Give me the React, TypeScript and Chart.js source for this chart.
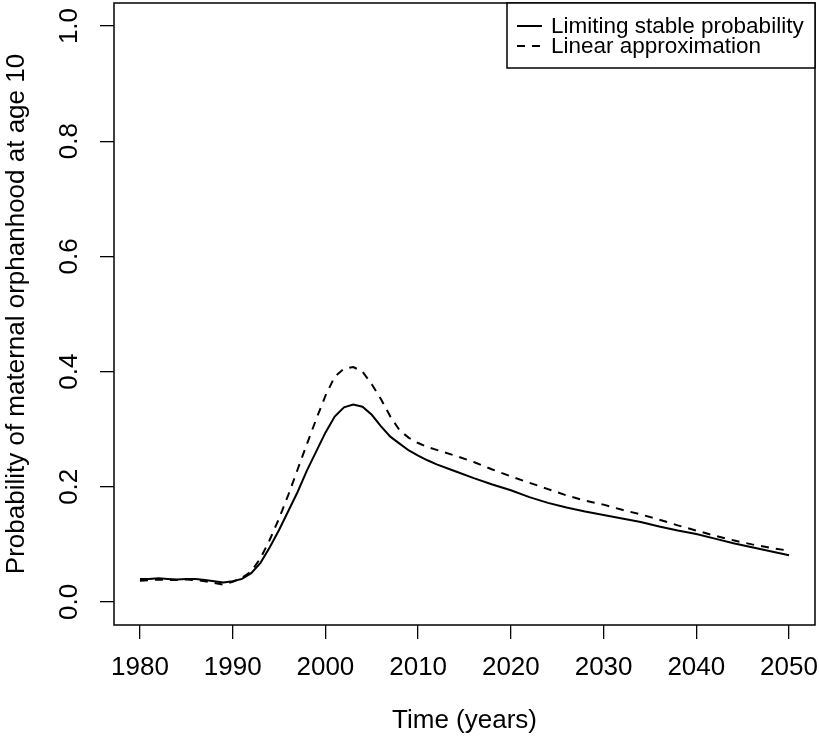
import React, { useEffect, useRef } from "react";
import { Chart, registerables } from "chart.js";

Chart.register(...registerables);

const years = [
  1980, 1981, 1982, 1983, 1984, 1985, 1986, 1987, 1988, 1989,
  1990, 1991, 1992, 1993, 1994, 1995, 1996, 1997, 1998, 1999,
  2000, 2001, 2002, 2003, 2004, 2005, 2006, 2007, 2008, 2009,
  2010, 2011, 2012, 2014, 2016, 2018, 2020, 2022, 2024, 2026,
  2028, 2030, 2032, 2034, 2036, 2038, 2040, 2042, 2044, 2046,
  2048, 2050,
];

const limitingStable = [
  0.040, 0.040, 0.041, 0.040, 0.039, 0.040, 0.040, 0.038, 0.036, 0.034,
  0.036, 0.040, 0.050, 0.068, 0.095, 0.125, 0.158, 0.191, 0.228, 0.261,
  0.294, 0.322, 0.338, 0.343, 0.339, 0.325, 0.305, 0.287, 0.275, 0.263,
  0.254, 0.246, 0.239, 0.227, 0.215, 0.204, 0.194, 0.182, 0.172, 0.164,
  0.157, 0.151, 0.145, 0.139, 0.131, 0.124, 0.118, 0.110, 0.102, 0.095,
  0.088, 0.081,
];

const linearApprox = [
  0.037, 0.038, 0.039, 0.038, 0.038, 0.039, 0.038, 0.036, 0.033, 0.030,
  0.035, 0.042, 0.053, 0.076, 0.108, 0.145, 0.186, 0.230, 0.274, 0.317,
  0.358, 0.391, 0.405, 0.408, 0.400, 0.378, 0.352, 0.322, 0.298, 0.285,
  0.276, 0.269, 0.264, 0.254, 0.243, 0.230, 0.218, 0.207, 0.196, 0.185,
  0.176, 0.169, 0.160, 0.152, 0.143, 0.133, 0.124, 0.115, 0.107, 0.100,
  0.094, 0.089,
];

const xTicks = [1980, 1990, 2000, 2010, 2020, 2030, 2040, 2050];
const yTicks = [0, 0.2, 0.4, 0.6, 0.8, 1.0];
const seriesLabels = ["Limiting stable probability", "Linear approximation"];
const xTitle = "Time (years)";
const yTitle = "Probability of maternal orphanhood at age 10";

const FONT = '"Liberation Sans", Arial, Helvetica, sans-serif';
const DASH = [8, 7];

export default function App() {
  const ref = useRef<HTMLCanvasElement>(null);

  useEffect(() => {
    if (!ref.current) return;

    const boxAndLegend = {
      id: "boxAndLegend",
      afterDatasetsDraw(chart: any) {
        const { ctx, chartArea: a } = chart;
        ctx.save();
        ctx.strokeStyle = "#000";
        ctx.lineWidth = 1.5;
        ctx.setLineDash([]);
        ctx.strokeRect(a.left, a.top, a.right - a.left, a.bottom - a.top);

        // legend box (top-right, like R's legend("topright"))
        const lw = 308;
        const lh = 65;
        const lx = a.right - lw;
        const ly = a.top;
        ctx.fillStyle = "#fff";
        ctx.fillRect(lx, ly, lw, lh);
        ctx.strokeRect(lx, ly, lw, lh);

        const rows = [ly + 23, ly + 43];
        chart.data.datasets.forEach((ds: any, i: number) => {
          const y = rows[i];
          ctx.beginPath();
          ctx.lineWidth = 2;
          ctx.lineCap = "butt";
          ctx.setLineDash(ds.borderDash || []);
          ctx.moveTo(lx + 10, y);
          ctx.lineTo(lx + 35, y);
          ctx.stroke();
          ctx.setLineDash([]);
          ctx.fillStyle = "#000";
          ctx.font = `22.5px ${FONT}`;
          ctx.textAlign = "left";
          ctx.textBaseline = "middle";
          ctx.fillText(ds.label, lx + 44, y + 1);
        });
        ctx.restore();
      },
    };

    const chart = new Chart(ref.current, {
      type: "line",
      data: {
        datasets: [
          {
            label: seriesLabels[0],
            data: years.map((x, i) => ({ x, y: limitingStable[i] })),
            borderColor: "#000",
            borderWidth: 2,
            pointRadius: 0,
            tension: 0,
            fill: false,
          },
          {
            label: seriesLabels[1],
            data: years.map((x, i) => ({ x, y: linearApprox[i] })),
            borderColor: "#000",
            borderWidth: 2,
            borderDash: DASH,
            pointRadius: 0,
            tension: 0,
            fill: false,
          },
        ],
      },
      options: {
        responsive: false,
        animation: false,
        devicePixelRatio: 1,
        layout: { padding: { top: 3, right: 4, left: 0, bottom: 0 } },
        plugins: {
          legend: { display: false },
          tooltip: { enabled: false },
        },
        scales: {
          x: {
            type: "linear",
            min: 1977.2,
            max: 2052.8,
            afterBuildTicks: (s: any) => {
              s.ticks = xTicks.map((v) => ({ value: v }));
            },
            afterFit: (s: any) => {
              s.height = 113;
              s.paddingLeft = 0;
              s.paddingRight = 0;
            },
            ticks: {
              font: { size: 26, family: FONT },
              color: "#000",
              padding: 13,
              maxRotation: 0,
              minRotation: 0,
              autoSkip: false,
              callback: (v: any) => String(v),
            },
            grid: {
              drawOnChartArea: false,
              drawTicks: true,
              tickLength: 14,
              color: "#000",
              lineWidth: 1.3,
            },
            border: { display: false },
            title: {
              display: true,
              text: xTitle,
              color: "#000",
              font: { size: 26, family: FONT },
              padding: { top: 0, bottom: 2 },
            },
          },
          y: {
            type: "linear",
            min: -0.04,
            max: 1.04,
            afterBuildTicks: (s: any) => {
              s.ticks = yTicks.map((v) => ({ value: v }));
            },
            afterFit: (s: any) => {
              s.width = 114;
              s.paddingTop = 0;
              s.paddingBottom = 0;
            },
            ticks: {
              font: { size: 26, family: FONT },
              color: "#000",
              padding: 12,
              minRotation: 90,
              maxRotation: 90,
              crossAlign: "center",
              autoSkip: false,
              callback: (v: any) => Number(v).toFixed(1),
            },
            grid: {
              drawOnChartArea: false,
              drawTicks: true,
              tickLength: 14,
              color: "#000",
              lineWidth: 1.3,
            },
            border: { display: false },
            title: {
              display: true,
              text: yTitle,
              color: "#000",
              font: { size: 26, family: FONT },
              padding: { top: 1, bottom: 0 },
            },
          },
        },
      },
      plugins: [boxAndLegend],
    });

    return () => chart.destroy();
  }, []);

  return (
    <div style={{ position: "absolute", left: 0, top: 0, width: 819, height: 738, background: "#fff" }}>
      <canvas ref={ref} width={819} height={738} style={{ display: "block" }} />
    </div>
  );
}
